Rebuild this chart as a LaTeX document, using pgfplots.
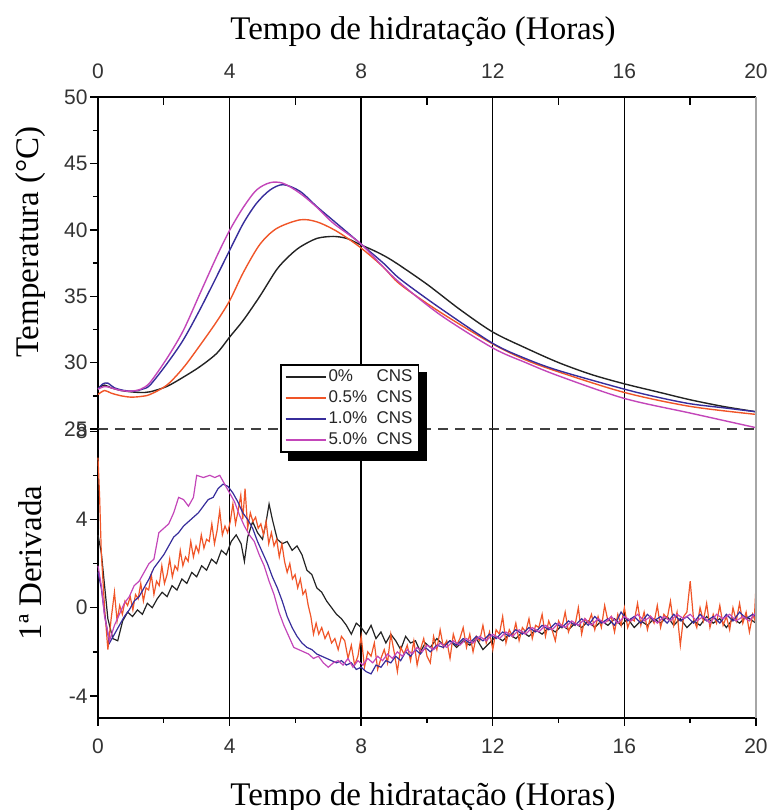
\documentclass[border=0pt]{standalone}
\usepackage{pgfplots}
\pgfplotsset{compat=1.18}
\usepackage{fontspec}
\setmainfont{Liberation Serif}
\newfontfamily\arial{Liberation Sans}
\definecolor{cblack}{RGB}{35,35,35}
\definecolor{cred}{RGB}{240,85,40}
\definecolor{cblue}{RGB}{55,45,155}
\definecolor{cmag}{RGB}{195,70,185}
\pgfplotsset{
  common/.style={
    scale only axis, width=329pt, xmin=0, xmax=20,
    clip=false,
    xtick={0,4,...,20},
    xticklabels={0,4,8,12,16,20},
    minor x tick num=1,
    minor y tick num=1,
    xmajorgrids,
    grid style={black, line width=0.7pt},
    tick align=outside,
    major tick length=4pt, minor tick length=2.5pt,
    tick style={black, line width=0.7pt},
    axis line style={black, line width=1pt},
    ticklabel style={font=\arial\fontsize{10.5}{12}\selectfont, text=black!80},
    yticklabel style={inner sep=1pt},
    label style={font=\fontsize{16.5}{19}\selectfont},
    /pgf/number format/assume math mode=true,
  }
}
\begin{document}
\begin{tikzpicture}
\useasboundingbox (0,0) rectangle (386.5pt,405pt);
% ---------------- top panel ----------------
\begin{axis}[common,
  at={(49pt,190.5pt)}, anchor=south west, height=166pt,
  ymin=25, ymax=50,
  axis x line*=top, axis y line*=left,
  ytick={25,30,...,50},
  yticklabels={25,30,35,40,45,50},
  xticklabel style={yshift=1.5pt},
  xtick style={draw=none},
  extra x ticks={2,6,10,14,18}, extra x tick labels={},
  extra x tick style={tick align=inside, xmajorgrids=false, xtick style={draw=black, line width=0.7pt}},
  xlabel={Tempo de hidratação (Horas)},
  xlabel style={at={(axis description cs:0.494,1.196)}, anchor=center},
  ylabel={Temperatura (°C)},
  ylabel style={at={(axis description cs:-0.103,0.563)}, anchor=center},
]
\addplot[cblack, line width=0.7pt, smooth, tension=0.5] coordinates {
(0,28.1) (0.2,28.3) (0.4,28.1) (0.7,27.9) (1.0,27.8) (1.3,27.75) (1.58,27.8) (2.09,28.2) (2.59,28.9) (3.10,29.7) (3.61,30.7) (4.01,31.95) (4.42,33.2) (4.92,35.0) (5.43,37.0) (5.8,38.0) (6.14,38.7) (6.65,39.35) (7.15,39.5) (7.56,39.35) (7.96,38.9) (8.5,38.3) (9.0,37.6) (10.0,35.9) (11,34.0) (12,32.3) (13,31.1) (14,30.0) (15,29.1) (16,28.4) (17,27.8) (18,27.2) (19,26.7) (20,26.3)};
\addplot[cred, line width=0.7pt, smooth, tension=0.5] coordinates {
(0,27.6) (0.2,27.9) (0.4,27.7) (0.7,27.5) (1.0,27.4) (1.3,27.45) (1.58,27.6) (2.09,28.3) (2.59,29.6) (3.10,31.3) (3.61,33.1) (4.01,34.7) (4.42,36.8) (4.92,38.9) (5.43,40.1) (6.14,40.75) (6.65,40.6) (7.25,39.9) (7.96,38.7) (8.67,37.2) (9.18,35.9) (10.4,33.8) (12,31.4) (13,30.2) (14,29.3) (16,27.75) (18,26.7) (20,26.1)};
\addplot[cblue, line width=0.7pt, smooth, tension=0.5] coordinates {
(0,28.0) (0.15,28.4) (0.3,28.45) (0.5,28.1) (0.8,27.9) (1.1,27.85) (1.35,28.0) (1.58,28.3) (2.09,29.9) (2.59,31.7) (3.10,34.0) (3.61,36.5) (4.01,38.5) (4.42,40.5) (4.82,42.0) (5.23,43.0) (5.63,43.4) (6.14,42.9) (6.65,41.75) (7.15,40.7) (7.96,39.0) (8.67,37.5) (9.18,36.3) (10.4,34.1) (12,31.45) (13,30.3) (14,29.4) (16,28.0) (17,27.4) (18,26.9) (19,26.6) (20,26.3)};
\addplot[cmag, line width=0.7pt, smooth, tension=0.5] coordinates {
(0,28.0) (0.2,28.2) (0.4,28.1) (0.7,27.9) (1.0,27.85) (1.3,28.0) (1.58,28.5) (2.09,30.3) (2.59,32.4) (3.10,35.2) (3.61,38.0) (4.01,40.0) (4.42,41.7) (4.82,43.0) (5.23,43.55) (5.63,43.5) (6.14,42.75) (6.65,41.7) (7.15,40.5) (7.96,39.0) (8.67,37.2) (9.18,36.0) (10.4,33.6) (12,31.1) (13,30.0) (14,29.0) (16,27.3) (18,26.2) (20,25.1)};
\draw[black!75, line width=0.9pt, dash pattern=on 5pt off 3.5pt] (rel axis cs:0,0) -- (rel axis cs:1,0);
\draw[gray!70, line width=1pt] (rel axis cs:1,0) -- (rel axis cs:1,1);
\end{axis}
% ---------------- bottom panel ----------------
\begin{axis}[common,
  at={(49pt,46pt)}, anchor=south west, height=144.5pt,
  ymin=-5, ymax=8.1,
  axis x line*=bottom, axis y line*=left,
  ytick={-4,0,4,8},
  yticklabels={-4,0,4,8},
  xticklabel style={yshift=-3pt},
  xlabel={Tempo de hidratação (Horas)},
  xlabel style={at={(axis description cs:0.494,-0.276)}, anchor=center},
  ylabel={1ª Derivada},
  ylabel style={at={(axis description cs:-0.103,0.536)}, anchor=center},
  legend style={name=leg, at={(axis cs:5.53,11.05)}, anchor=north west, draw=black, line width=0.8pt, fill=white,
    font=\arial\fontsize{8.5}{10}\selectfont, text=black!85, row sep=1pt,
    inner xsep=2pt, inner ysep=1.5pt,
    nodes={inner sep=1pt, text depth=0.15em}},
  legend cell align=left,
  legend image code/.code={\draw[#1, line width=0.9pt] (0pt,0pt) -- (20pt,0pt);},
]
\addplot[cblack, line width=0.6pt] coordinates {
(0.00,3.3) (0.10,2.5) (0.20,1.0) (0.30,-0.5) (0.45,-1.4) (0.60,-1.5) (0.75,-0.6) (0.90,-0.2) (1.05,-0.4) (1.20,-0.1) (1.35,-0.3) (1.50,0.2) (1.65,0.0) (1.80,0.4) (1.95,0.7) (2.10,0.5) (2.25,1.0) (2.40,0.8) (2.55,1.3) (2.70,1.1) (2.85,1.6) (3.00,1.4) (3.15,1.9) (3.30,1.7) (3.45,2.2) (3.60,2.0) (3.75,2.6) (3.90,2.4) (4.05,3.0) (4.20,3.3) (4.35,2.9) (4.45,2.1) (4.55,3.2) (4.70,3.9) (4.85,3.4) (5.00,3.1) (5.10,3.8) (5.20,4.7) (5.30,4.0) (5.45,3.1) (5.60,2.9) (5.75,3.0) (5.90,2.6) (6.05,2.8) (6.20,2.4) (6.35,1.7) (6.50,1.5) (6.65,0.9) (6.80,0.7) (6.95,0.3) (7.10,0.0) (7.25,-0.3) (7.40,-0.5) (7.55,-0.8) (7.70,-1.2) (7.85,-0.7) (8.00,-0.9) (8.15,-1.2) (8.30,-0.8) (8.45,-1.4) (8.60,-1.1) (8.75,-1.6) (8.90,-1.2) (9.05,-1.5) (9.20,-1.9) (9.35,-1.3) (9.50,-1.6) (9.65,-1.5) (9.80,-2.0) (9.95,-1.6) (10.1,-1.8) (10.3,-1.4) (10.5,-1.7) (10.7,-1.5) (10.9,-1.8) (11.1,-1.5) (11.3,-1.7) (11.5,-1.4) (11.7,-1.9) (11.9,-1.6) (12.1,-1.3) (12.3,-1.5) (12.5,-1.2) (12.7,-1.4) (12.9,-1.1) (13.1,-1.3) (13.3,-1.0) (13.5,-1.2) (13.7,-0.9) (13.9,-1.1) (14.1,-0.8) (14.3,-1.0) (14.5,-0.7) (14.7,-0.9) (14.9,-0.6) (15.1,-0.9) (15.3,-0.6) (15.5,-0.8) (15.7,-0.5) (15.9,-0.8) (16.1,-0.5) (16.3,-0.9) (16.5,-0.6) (16.7,-0.8) (16.9,-0.5) (17.1,-0.7) (17.3,-0.4) (17.5,-0.8) (17.7,-0.5) (17.9,-0.9) (18.1,-0.6) (18.3,-0.8) (18.5,-0.4) (18.7,-0.7) (18.9,-0.5) (19.1,-0.9) (19.3,-0.5) (19.5,-0.7) (19.7,-0.4) (19.9,-0.6) (20.0,-0.7)};
\addlegendentry{\makebox[24pt][l]{0\%}CNS}
\addplot[cred, line width=0.6pt] coordinates {
(0.00,6.8) (0.05,5.0) (0.10,2.5) (0.20,0.0) (0.30,-1.9) (0.40,-0.5) (0.50,0.7) (0.58,-0.6) (0.66,0.1) (0.74,-0.3) (0.82,0.3) (0.90,0.1) (0.98,0.5) (1.06,-0.1) (1.14,0.6) (1.22,0.4) (1.30,1.1) (1.38,0.3) (1.46,0.9) (1.54,0.8) (1.62,1.5) (1.70,0.6) (1.78,1.2) (1.86,1.0) (1.94,1.9) (2.02,1.1) (2.10,1.5) (2.18,2.2) (2.26,1.4) (2.34,1.9) (2.42,1.7) (2.50,2.6) (2.58,1.9) (2.66,2.3) (2.74,2.1) (2.82,3.0) (2.90,2.3) (2.98,2.8) (3.06,2.5) (3.14,3.3) (3.22,2.7) (3.30,3.1) (3.38,3.0) (3.46,3.8) (3.54,2.9) (3.62,3.5) (3.70,4.4) (3.78,3.3) (3.86,3.7) (3.94,3.4) (4.02,3.9) (4.10,4.7) (4.18,3.8) (4.26,4.4) (4.34,5.1) (4.40,4.0) (4.47,5.4) (4.55,3.6) (4.63,4.3) (4.71,3.9) (4.79,4.1) (4.87,3.6) (4.95,3.8) (5.03,3.3) (5.11,3.9) (5.19,2.9) (5.27,3.4) (5.35,2.8) (5.43,3.1) (5.51,2.3) (5.59,2.9) (5.67,2.1) (5.75,1.6) (5.83,2.0) (5.91,1.3) (5.99,1.5) (6.07,0.9) (6.15,1.3) (6.23,0.6) (6.31,0.8) (6.39,0.1) (6.47,-0.4) (6.55,-1.2) (6.63,-0.7) (6.71,-1.2) (6.80,-0.9) (6.90,-1.4) (7.0,-1.1) (7.1,-1.6) (7.2,-1.4) (7.3,-1.9) (7.4,-1.3) (7.5,-1.5) (7.6,-2.3) (7.7,-1.7) (7.8,-2.6) (7.9,-2.2) (8.0,-1.3) (8.1,-2.7) (8.2,-2.0) (8.3,-2.2) (8.4,-1.6) (8.5,-2.8) (8.6,-2.3) (8.7,-1.9) (8.8,-2.5) (8.9,-1.2) (9.0,-2.0) (9.1,-2.9) (9.2,-1.8) (9.3,-2.1) (9.4,-1.7) (9.5,-2.4) (9.6,-1.5) (9.7,-2.6) (9.8,-1.9) (9.9,-1.4) (10.0,-2.2) (10.1,-2.5) (10.2,-1.3) (10.3,-1.9) (10.4,-1.0) (10.5,-1.8) (10.6,-1.5) (10.7,-2.3) (10.8,-1.2) (10.9,-1.7) (11.0,-1.4) (11.1,-0.9) (11.2,-1.8) (11.3,-1.2) (11.4,-2.0) (11.5,-1.3) (11.6,-1.5) (11.7,-0.8) (11.8,-1.6) (11.9,-1.1) (12.0,-1.9) (12.1,-1.0) (12.2,-1.2) (12.3,-0.4) (12.4,-1.6) (12.5,-1.0) (12.6,-1.3) (12.7,-0.7) (12.8,-1.5) (12.9,-0.9) (13.0,-1.1) (13.1,-0.5) (13.2,-1.4) (13.3,-0.8) (13.4,-0.9) (13.5,-0.3) (13.6,-1.3) (13.7,-0.6) (13.8,-1.0) (13.9,-1.5) (14.0,-0.6) (14.1,-0.9) (14.2,-0.2) (14.3,-1.1) (14.4,-0.7) (14.5,-0.8) (14.6,0.0) (14.7,-1.2) (14.8,-0.5) (14.9,-0.7) (15.0,-0.3) (15.1,-1.0) (15.2,-0.4) (15.3,-0.9) (15.4,0.1) (15.5,-0.6) (15.6,-0.4) (15.7,-1.1) (15.8,-0.3) (15.9,-0.8) (16.0,0.0) (16.1,-0.9) (16.2,-0.5) (16.3,-0.6) (16.4,0.2) (16.5,-0.8) (16.6,-0.2) (16.7,-1.0) (16.8,-0.4) (16.9,-0.7) (17.0,0.1) (17.1,-0.9) (17.2,-0.3) (17.3,-0.5) (17.4,0.3) (17.5,-0.8) (17.6,-0.2) (17.7,-1.7) (17.8,-0.4) (17.9,-0.2) (18.0,1.2) (18.1,-0.5) (18.2,-0.9) (18.3,0.0) (18.4,-0.6) (18.5,0.2) (18.6,-0.9) (18.7,-0.3) (18.8,-0.7) (18.9,0.1) (19.0,-0.8) (19.1,-0.4) (19.2,-1.0) (19.3,0.0) (19.4,-0.6) (19.5,0.2) (19.6,-0.7) (19.7,-0.2) (19.8,-1.1) (19.9,-0.3) (19.95,-0.5) (20.0,1.0)};
\addlegendentry{\makebox[24pt][l]{0.5\%}CNS}
\addplot[cblue, line width=0.6pt] coordinates {
(0.00,1.6) (0.10,0.9) (0.20,-0.3) (0.35,-1.6) (0.50,-1.2) (0.65,-0.8) (0.80,-0.4) (0.95,-0.1) (1.10,0.3) (1.25,0.5) (1.40,0.9) (1.55,1.3) (1.70,1.8) (1.85,2.1) (2.00,2.4) (2.15,2.8) (2.30,3.2) (2.45,3.4) (2.60,3.7) (2.75,3.9) (2.90,4.1) (3.05,4.3) (3.20,4.6) (3.35,4.9) (3.50,5.0) (3.65,5.4) (3.80,5.6) (3.95,5.5) (4.10,5.2) (4.25,4.8) (4.40,4.3) (4.55,4.0) (4.70,3.6) (4.85,3.0) (5.00,2.5) (5.15,2.0) (5.30,1.4) (5.45,0.9) (5.60,0.3) (5.75,-0.4) (5.90,-0.9) (6.05,-1.3) (6.20,-1.6) (6.35,-1.8) (6.50,-1.9) (6.65,-2.1) (6.80,-2.2) (6.95,-2.3) (7.10,-2.4) (7.25,-2.5) (7.40,-2.4) (7.55,-2.6) (7.70,-2.5) (7.85,-2.8) (8.00,-2.7) (8.15,-2.9) (8.30,-3.0) (8.45,-2.6) (8.60,-2.7) (8.75,-2.4) (8.90,-2.5) (9.05,-2.2) (9.20,-2.4) (9.35,-2.0) (9.50,-2.2) (9.65,-1.9) (9.80,-2.1) (9.95,-1.8) (10.1,-2.0) (10.3,-1.7) (10.5,-1.8) (10.7,-1.5) (10.9,-1.7) (11.1,-1.4) (11.3,-1.6) (11.5,-1.3) (11.7,-1.5) (11.9,-1.2) (12.1,-1.4) (12.3,-1.1) (12.5,-1.3) (12.7,-1.0) (12.9,-1.2) (13.1,-0.9) (13.3,-1.1) (13.5,-0.8) (13.7,-1.0) (13.9,-0.7) (14.1,-0.9) (14.3,-0.6) (14.5,-0.8) (14.7,-0.5) (14.9,-0.8) (15.1,-0.4) (15.3,-0.7) (15.5,-0.5) (15.7,-0.8) (15.9,-0.2) (16.1,-0.6) (16.3,-0.4) (16.5,-0.7) (16.7,-0.3) (16.9,-0.6) (17.1,-0.4) (17.3,-0.7) (17.5,-0.3) (17.7,-0.6) (17.9,-0.4) (18.1,-0.7) (18.3,-0.3) (18.5,-0.6) (18.7,-0.4) (18.9,-0.7) (19.1,-0.3) (19.3,-0.6) (19.5,-0.2) (19.7,-0.5) (19.9,-0.3) (20.0,-0.4)};
\addlegendentry{\makebox[24pt][l]{1.0\%}CNS}
\addplot[cmag, line width=0.6pt] coordinates {
(0.00,1.9) (0.10,1.0) (0.20,-0.4) (0.35,-1.5) (0.50,-0.8) (0.65,-0.3) (0.80,0.2) (0.95,0.5) (1.10,1.0) (1.25,1.2) (1.40,1.6) (1.55,2.0) (1.70,2.2) (1.85,3.4) (2.00,3.6) (2.15,3.8) (2.30,4.3) (2.45,5.0) (2.60,4.9) (2.75,4.6) (2.90,5.0) (3.00,6.0) (3.20,5.9) (3.40,6.0) (3.55,5.9) (3.70,6.0) (3.85,5.6) (4.00,5.2) (4.15,4.8) (4.30,4.2) (4.45,3.7) (4.60,3.3) (4.75,3.0) (4.90,2.4) (5.05,1.9) (5.20,1.2) (5.35,0.6) (5.50,-0.2) (5.65,-0.8) (5.80,-1.3) (5.95,-1.8) (6.10,-1.9) (6.25,-2.0) (6.40,-2.1) (6.55,-2.3) (6.70,-2.2) (6.85,-2.5) (7.00,-2.7) (7.15,-2.5) (7.30,-2.4) (7.45,-2.6) (7.60,-2.3) (7.75,-2.7) (7.90,-2.4) (8.05,-2.6) (8.20,-2.3) (8.35,-2.5) (8.50,-2.2) (8.65,-2.4) (8.80,-2.1) (8.95,-2.3) (9.10,-2.0) (9.25,-2.2) (9.40,-1.9) (9.55,-2.1) (9.70,-1.8) (9.85,-2.0) (10.0,-1.7) (10.2,-1.9) (10.4,-1.6) (10.6,-1.8) (10.8,-1.5) (11.0,-1.7) (11.2,-1.4) (11.4,-1.6) (11.6,-1.3) (11.8,-1.5) (12.0,-1.2) (12.2,-1.4) (12.4,-1.1) (12.6,-1.3) (12.8,-1.0) (13.0,-1.2) (13.2,-0.9) (13.4,-1.1) (13.6,-0.8) (13.8,-1.0) (14.0,-0.7) (14.2,-0.9) (14.4,-0.6) (14.6,-0.8) (14.8,-0.5) (15.0,-0.8) (15.2,-0.5) (15.4,-0.7) (15.6,-0.4) (15.8,-0.7) (16.0,-0.4) (16.2,-0.6) (16.4,-0.3) (16.6,-0.6) (16.8,-0.4) (17.0,-0.7) (17.2,-0.4) (17.4,-0.6) (17.6,-0.3) (17.8,-0.5) (18.0,-0.3) (18.2,-0.6) (18.4,-0.4) (18.6,-0.7) (18.8,-0.3) (19.0,-0.5) (19.2,-0.3) (19.4,-0.6) (19.6,-0.4) (19.8,-0.6) (20.0,-0.2)};
\addlegendentry{\makebox[24pt][l]{5.0\%}CNS}
\draw[gray!70, line width=1pt] (rel axis cs:1,0) -- (rel axis cs:1,1);
\end{axis}
% legend shadow (right and bottom strips)
\fill[black] ([shift={(4pt,-4pt)}]leg.south west) rectangle ([shift={(4pt,0pt)}]leg.south east);
\fill[black] ([shift={(0pt,-4pt)}]leg.south east) rectangle ([shift={(4pt,-4pt)}]leg.north east);
\end{tikzpicture}
\end{document}
